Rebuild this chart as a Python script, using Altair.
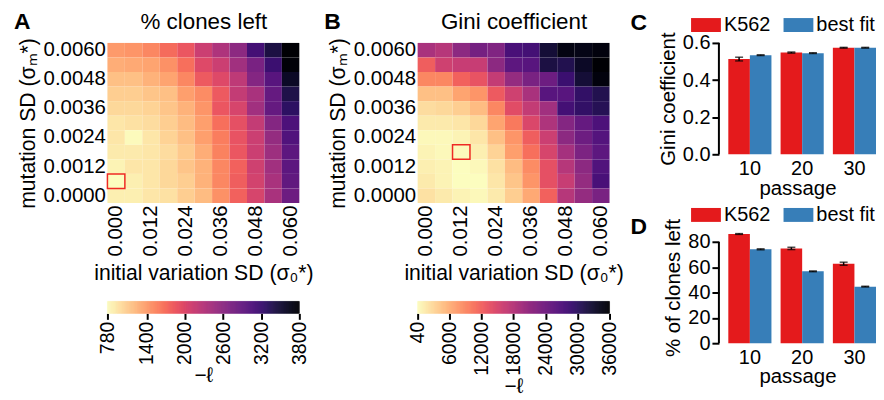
import altair as alt
import pandas as pd
import numpy as np

FONT = "Liberation Sans"

# ---------------- heatmap data ----------------
x_vals = ["0.000", "0.006", "0.012", "0.018", "0.024", "0.030",
          "0.036", "0.042", "0.048", "0.054", "0.060"]
# rows listed top (0.0060) to bottom (0.0000)
y_vals = ["0.0060", "0.0054", "0.0048", "0.0042", "0.0036", "0.0030",
          "0.0024", "0.0018", "0.0012", "0.0006", "0.0000"]

clones_negll = [
    [1414, 1444, 1535, 1716, 1867, 2139, 2350, 2592, 3136, 3438, 3800],
    [1293, 1324, 1354, 1475, 1686, 1988, 2139, 2441, 2743, 3196, 3770],
    [1173, 1173, 1263, 1354, 1535, 1837, 1988, 2230, 2652, 2985, 3589],
    [1082, 1082, 1142, 1173, 1384, 1505, 1837, 2199, 2381, 2894, 3407],
    [1022, 1022, 1052, 1142, 1263, 1444, 1867, 2048, 2441, 2894, 3287],
    [931, 961, 991, 1082, 1203, 1384, 1686, 1928, 2199, 2652, 3075],
    [931, 800, 931, 1052, 1173, 1384, 1595, 1897, 2139, 2532, 3045],
    [901, 901, 931, 991, 1112, 1293, 1565, 1867, 2139, 2471, 2954],
    [840, 931, 931, 1022, 1142, 1263, 1535, 1777, 2109, 2441, 2954],
    [780, 871, 931, 1022, 1082, 1263, 1535, 1807, 2079, 2381, 2924],
    [871, 871, 931, 961, 1082, 1203, 1475, 1777, 2048, 2381, 2834],
]

gini_negll = [
    [19099, 18020, 21616, 23774, 22695, 27729, 28089, 32404, 34921, 34562, 35281],
    [12266, 15862, 16582, 16582, 21616, 25931, 26291, 31685, 30966, 33483, 36000],
    [9030, 9030, 11907, 13345, 16941, 20897, 23414, 24493, 28808, 32404, 35281],
    [4715, 4715, 6872, 7951, 12626, 15862, 19099, 26291, 26291, 29527, 30966],
    [2557, 2917, 3636, 5074, 9030, 14064, 16941, 19818, 28089, 29527, 30606],
    [1478, 1478, 1838, 2917, 6872, 10109, 14784, 18739, 22335, 25212, 27370],
    [400, 400, 759, 1838, 4715, 7951, 12266, 16222, 21616, 24493, 26650],
    [759, 400, 300, 1119, 3276, 7232, 10828, 15143, 19458, 23054, 25931],
    [1119, 759, 40, 400, 2198, 5074, 8670, 13705, 18020, 21616, 27010],
    [1478, 759, 40, 40, 1838, 4355, 7951, 13705, 16582, 20897, 27729],
    [2198, 1478, 759, 400, 1478, 3636, 6513, 11907, 18020, 20897, 23414],
]

best_clones = ["0.000", "0.0006"]
best_gini = ["0.012", "0.0018"]

clones_ticks = [780, 1400, 2000, 2600, 3200, 3800]
gini_ticks = [40, 6000, 12000, 18000, 24000, 30000, 36000]

# ---------------- bar data ----------------
passages = ["10", "20", "30"]
groups = ["K562", "best fit"]
gini_k562 = [0.513, 0.548, 0.574]
gini_k562_err = [0.010, 0.003, 0.002]
gini_fit = [0.534, 0.545, 0.574]
gini_fit_err = [0.002, 0.002, 0.002]
clones_k562 = [86.3, 74.9, 62.8]
clones_k562_err = [0.3, 0.9, 1.2]
clones_fit = [74.2, 56.8, 44.7]
clones_fit_err = [0.4, 0.3, 0.3]

RED = "#e41a1c"
BLUE = "#377eb8"


def text_layer(txt, dx, dy, size, bold, align):
    return alt.Chart(pd.DataFrame({"t": [txt]})).mark_text(
        font=FONT, fontSize=size, fontWeight="bold" if bold else "normal",
        align=align, baseline="alphabetic", color="black"
    ).encode(text="t:N", x=alt.value(dx), y=alt.value(dy))


def heatmap(values, best, title, letter, lo, hi, ticks):
    rows = []
    for i, yv in enumerate(y_vals):
        for j, xv in enumerate(x_vals):
            rows.append({"x": xv, "y": yv, "v": values[i][j]})
    df = pd.DataFrame(rows)
    xenc = alt.X("x:O", scale=alt.Scale(domain=x_vals),
                 axis=alt.Axis(values=x_vals[::2], labelAngle=270, ticks=False,
                               domain=False, labelPadding=2, titlePadding=7,
                               labelFontSize=20.5, titleFontSize=21.3,
                               title="initial variation SD (σ₀*)"))
    yenc = alt.Y("y:O", scale=alt.Scale(domain=y_vals),
                 axis=alt.Axis(values=y_vals[::2], ticks=False, domain=False,
                               labelPadding=2, titlePadding=5,
                               labelFontSize=20.5, titleFontSize=21.3,
                               title="mutation SD (σₘ*)"))
    rect = alt.Chart(df).mark_rect().encode(
        x=xenc, y=yenc,
        color=alt.Color("v:Q", scale=alt.Scale(scheme="magma", reverse=True,
                                               domain=[lo, hi]), legend=None))
    box = alt.Chart(pd.DataFrame({"x": [best[0]], "y": [best[1]]})).mark_rect(
        fillOpacity=0, stroke="#ee2a24", strokeWidth=1.5
    ).encode(x="x:O", y="y:O")
    heat = alt.layer(
        rect, box,
        text_layer(letter, -94, -14, 23, True, "left"),
        text_layer(title, 97, -14, 22.5, False, "center"),
    ).properties(width=193, height=161)

    n = 193
    edges = np.linspace(lo, hi, n + 1)
    cdf = pd.DataFrame({"a": edges[:-1], "b": edges[1:],
                        "m": (edges[:-1] + edges[1:]) / 2})
    cscale = alt.Scale(scheme="magma", reverse=True, domain=[lo, hi])
    cbar = alt.Chart(cdf).mark_rect(strokeWidth=0.6).encode(
        x=alt.X("a:Q", scale=alt.Scale(domain=[lo, hi], nice=False, zero=False),
                axis=alt.Axis(values=ticks, labelAngle=270, tickSize=6, tickWidth=2,
                              tickColor="black", domain=False, grid=False,
                              labelFlush=False, labelPadding=2, format="d",
                              labelFontSize=19.5, titleFontSize=21,
                              title="−ℓ", titlePadding=0, labelOverlap=False)),
        x2="b:Q",
        color=alt.Color("m:Q", scale=cscale, legend=None),
        stroke=alt.Stroke("m:Q", scale=cscale, legend=None),
    ).properties(width=193, height=12)
    return alt.vconcat(heat, cbar, spacing=16).resolve_scale(
        color="independent", stroke="independent")


def bars(k, ke, f, fe, ytitle, dom, yticks, letter, letter_dy, legend_y, height):
    df = pd.DataFrame({
        "passage": passages * 2,
        "group": [groups[0]] * 3 + [groups[1]] * 3,
        "val": k + f,
        "err": ke + fe,
    })
    df["lo"] = df["val"] - df["err"]
    df["hi"] = df["val"] + df["err"]
    base = alt.Chart(df)
    xenc = alt.X("passage:N", sort=passages,
                 scale=alt.Scale(paddingInner=0.175, paddingOuter=0.09, align=1),
                 axis=alt.Axis(labelAngle=0, ticks=False, domain=False,
                               title="passage", labelPadding=4, titlePadding=0,
                               labelFontSize=20, titleFontSize=20.5))
    xoff = alt.XOffset("group:N", sort=groups,
                       scale=alt.Scale(paddingInner=0, paddingOuter=0))
    yscale = alt.Scale(domain=dom, nice=False, zero=True)
    yaxis = alt.Axis(values=yticks, domain=False, tickSize=7, tickWidth=2,
                     tickColor="black", grid=False, labelPadding=2,
                     labelOverlap=False, labelFontSize=20, titleFontSize=20.5,
                     title=ytitle, titlePadding=4)
    bar = base.mark_bar().encode(
        x=xenc, xOffset=xoff,
        y=alt.Y("val:Q", scale=yscale, axis=yaxis),
        color=alt.Color("group:N", sort=groups,
                        scale=alt.Scale(domain=groups, range=[RED, BLUE]),
                        legend=alt.Legend(title=None, orient="none", legendX=-28,
                                          legendY=legend_y, direction="horizontal",
                                          symbolType="M-1,-0.467H1V0.467H-1Z",
                                          symbolSize=900, symbolStrokeWidth=0,
                                          symbolOpacity=1, labelFontSize=20,
                                          labelFont=FONT, labelColor="black",
                                          labelOffset=3, columnPadding=13,
                                          padding=0)),
    )
    err = base.mark_rule(color="black", strokeWidth=1.5).encode(
        x=xenc, xOffset=xoff, y=alt.Y("lo:Q", scale=yscale, axis=yaxis), y2="hi:Q")
    cap_lo = base.mark_tick(color="black", thickness=1.5, size=8).encode(
        x=xenc, xOffset=xoff, y=alt.Y("lo:Q", scale=yscale, axis=yaxis))
    cap_hi = base.mark_tick(color="black", thickness=1.5, size=8).encode(
        x=xenc, xOffset=xoff, y=alt.Y("hi:Q", scale=yscale, axis=yaxis))
    spine = alt.Chart(pd.DataFrame({"a": [yticks[0]], "b": [yticks[-1]]})).mark_rule(
        color="black", strokeWidth=2).encode(
        x=alt.value(0), y=alt.Y("a:Q", scale=yscale, axis=yaxis), y2="b:Q")
    return alt.layer(bar, err, cap_lo, cap_hi, spine,
                     text_layer(letter, -89, letter_dy, 23, True, "left")).properties(
        width=158, height=height)


colA = heatmap(clones_negll, best_clones, "% clones left", "A", 780, 3800, clones_ticks)
colB = heatmap(gini_negll, best_gini, "Gini coefficient", "B", 40, 36000, gini_ticks)

chartC = bars(gini_k562, gini_k562_err, gini_fit, gini_fit_err, "Gini coefficient",
              [0, 0.6], [0.0, 0.2, 0.4, 0.6], "C", -13, -33, 112)
chartD = bars(clones_k562, clones_k562_err, clones_fit, clones_fit_err,
              "% of clones left", [0, 88], [0, 20, 40, 60, 80], "D", 2, -32, 112)
colCD = alt.vconcat(chartC, chartD, spacing=1).resolve_scale(color="independent")

heats = alt.hconcat(colA, colB, spacing=11).resolve_scale(
    color="independent", stroke="independent", x="independent", y="independent")

chart = alt.hconcat(heats, colCD, spacing=7).resolve_scale(
    color="independent", stroke="independent", x="independent", y="independent"
).configure(font=FONT).configure_view(stroke=None).configure_axis(
    labelFont=FONT, titleFont=FONT, titleFontWeight="normal",
    labelColor="black", titleColor="black"
).properties(padding={"left": 6, "top": 1, "right": 0, "bottom": 0})

chart.save("out.html", embed_options={"renderer": "svg", "actions": False})
